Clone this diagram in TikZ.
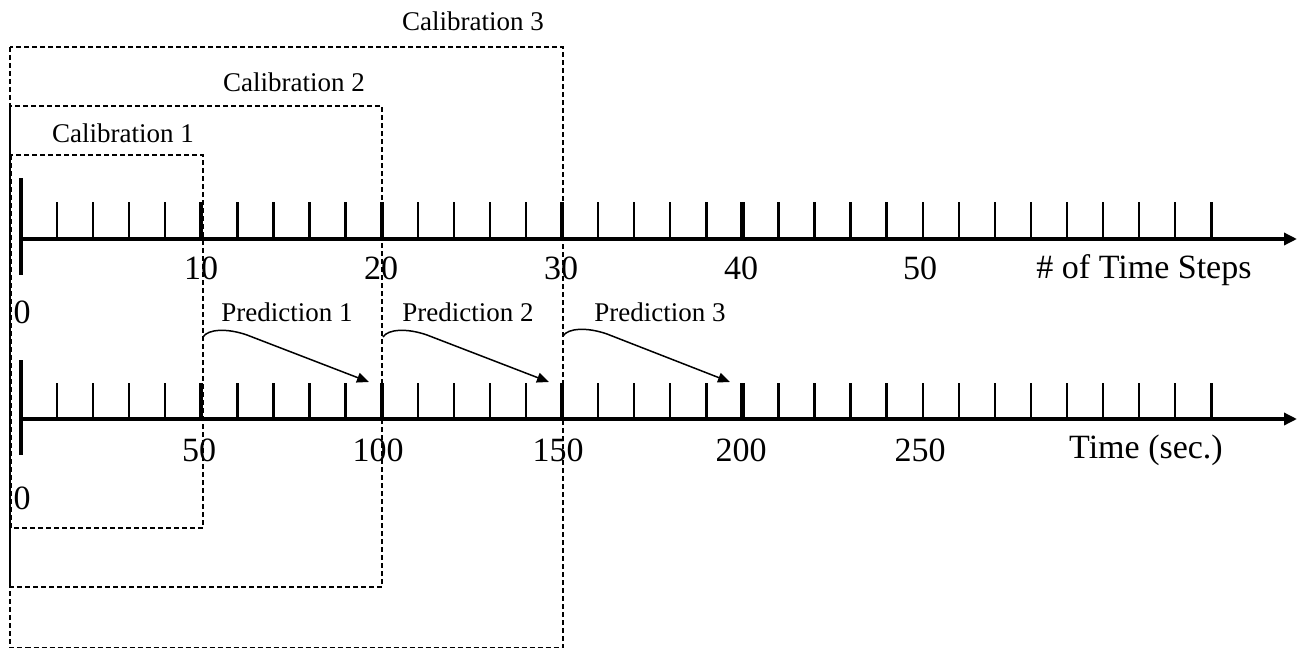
\documentclass[tikz,border=0pt]{standalone}
\usepackage{fontspec}
\setmainfont{Liberation Serif}
\usetikzlibrary{arrows.meta,calc}
\begin{document}
\begin{tikzpicture}[x=1pt,y=-1pt,
  axisline/.style={line width=3.4pt,-{Triangle[length=13pt,width=12pt]}},
  minortick/.style={line width=2.4pt},
  majortick/.style={line width=4.2pt},
  zerotick/.style={line width=3.4pt},
  calbox/.style={line width=1.3pt,dash pattern=on 5pt off 3pt},
  predarrow/.style={line width=1.5pt,-{Triangle[length=12pt,width=10pt]}},
  smalltext/.style={font=\fontsize{27}{30}\selectfont,inner sep=0pt},
  bigtext/.style={font=\fontsize{34}{38}\selectfont,inner sep=0pt},
]
\useasboundingbox (0,0) rectangle (1306,650);

% calibration boxes
\draw[calbox] (10,47) rectangle (563,647.5);
\draw[calbox] (10,106) rectangle (382,587);
\draw[calbox] (11,155) rectangle (203,528);
\node[smalltext] (cal3) at (473,21) {Calibration 3};
\node[smalltext] (cal2) at (294,82) {Calibration 2};
\node[smalltext] (cal1) at (123,133) {Calibration 1};

% top axis
\coordinate (ta) at (21,239);
\coordinate (tb) at (1297,239);
\foreach \i in {1,...,33}{
  \draw[minortick] ({21+36.07*\i},202) -- ({21+36.07*\i},239);
}
\foreach \i in {5,10,15,20}{
  \draw[majortick] ({21+36.07*\i},202) -- ({21+36.07*\i},239);
}
\draw[axisline] (ta) -- (tb);
\coordinate (tz1) at (21,178);
\coordinate (tz2) at (21,275);
\draw[zerotick] (tz1) -- (tz2);

% bottom axis
\coordinate (ba) at (21,419);
\coordinate (bb) at (1297,419);
\foreach \i in {1,...,33}{
  \draw[minortick] ({21+36.07*\i},383) -- ({21+36.07*\i},419);
}
\foreach \i in {5,10,15,20}{
  \draw[majortick] ({21+36.07*\i},383) -- ({21+36.07*\i},419);
}
\draw[axisline] (ba) -- (bb);
\coordinate (bz1) at (21,360);
\coordinate (bz2) at (21,455);
\draw[zerotick] (bz1) -- (bz2);

% top labels
\node[bigtext] (t0) at (22,312) {0};
\node[bigtext] (t10) at (201,268) {10};
\node[bigtext] (t20) at (381,268) {20};
\node[bigtext] (t30) at (561,268) {30};
\node[bigtext] (t40) at (741,268) {40};
\node[bigtext] (t50) at (920,268) {50};
\node[bigtext] (tlab) at (1144,270) {\# of Time Steps};

% bottom labels
\node[bigtext] (b0) at (22,498) {0};
\node[bigtext] (b50) at (199,450) {50};
\node[bigtext] (b100) at (378,450) {100};
\node[bigtext] (b150) at (558,450) {150};
\node[bigtext] (b200) at (741,450) {200};
\node[bigtext] (b250) at (920,450) {250};
\node[bigtext] (blab) at (1146,450) {Time (sec.)};

% predictions
\node[smalltext] (p1) at (287,312) {Prediction 1};
\node[smalltext] (p2) at (468,312) {Prediction 2};
\node[smalltext] (p3) at (660,312) {Prediction 3};

\coordinate (s1) at (203,337); \coordinate (e1) at (369,382);
\coordinate (s2) at (383,337); \coordinate (e2) at (549,382);
\coordinate (s3) at (563,336); \coordinate (e3) at (730,382);
\foreach \k in {1,2,3}{
  \draw[predarrow] (s\k) .. controls +(5,-8) and +(-20,-7) .. ($(s\k)+(44,-2)$) -- (e\k);
}
\end{tikzpicture}
\end{document}
